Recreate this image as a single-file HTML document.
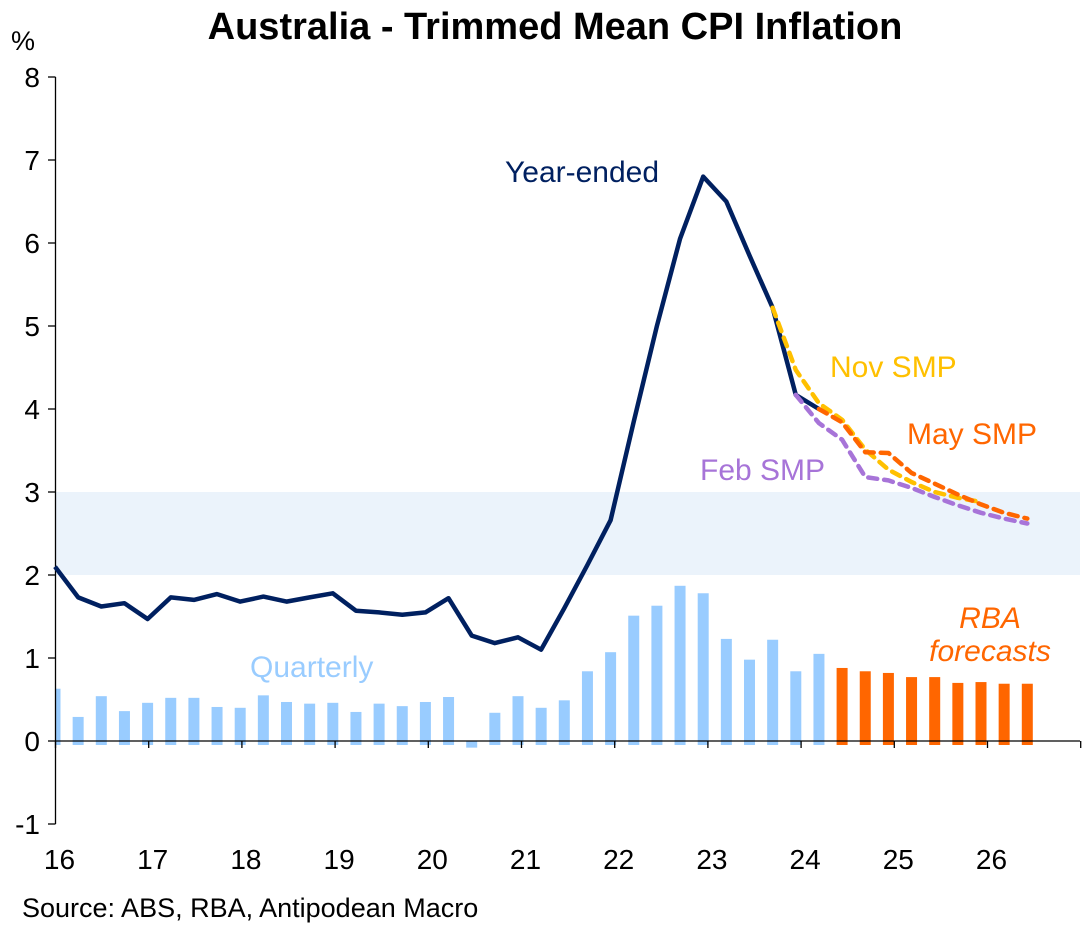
<!DOCTYPE html>
<html><head><meta charset="utf-8">
<style>
html,body{margin:0;padding:0;background:#fff;}
svg text{font-family:"Liberation Sans",Arial,sans-serif;}
</style></head>
<body>
<svg id="chart" width="1092" height="928" viewBox="0 0 1092 928" xmlns="http://www.w3.org/2000/svg">
<rect width="1092" height="928" fill="#fff"/>
<text x="555" y="39" text-anchor="middle" font-size="38" font-weight="bold" fill="#000">Australia - Trimmed Mean CPI Inflation</text>
<text x="11" y="50" font-size="27" fill="#000">%</text>
<rect id="band" fill="#EBF3FB"/>
<g id="bars"></g>
<g id="axes"></g>
<g id="lines"></g>
<text x="505" y="182" font-size="30" fill="#002060">Year-ended</text>
<text x="830" y="377" font-size="30" fill="#FFC000">Nov SMP</text>
<text x="907" y="444" font-size="30" fill="#FF6600">May SMP</text>
<text x="700" y="480" font-size="30" fill="#A774D8">Feb SMP</text>
<text x="250" y="677" font-size="30" fill="#99CCFF">Quarterly</text>
<text x="990" y="628" font-size="30" font-style="italic" text-anchor="middle" fill="#FF6600">RBA</text>
<text x="990" y="661" font-size="30" font-style="italic" text-anchor="middle" fill="#FF6600">forecasts</text>
<text x="22" y="917" font-size="27" fill="#000">Source: ABS, RBA, Antipodean Macro</text>
</svg>
<script>
const yTicks=[8,7,6,5,4,3,2,1,0,-1];
const xTickLabels=["16","17","18","19","20","21","22","23","24","25","26"];
const quarterlyActual=[0.63,0.29,0.54,0.36,0.46,0.52,0.52,0.41,0.40,0.55,0.47,0.45,0.46,0.35,0.45,0.42,0.47,0.53,-0.08,0.34,0.54,0.40,0.49,0.84,1.07,1.51,1.63,1.87,1.78,1.23,0.98,1.22,0.84,1.05];
const quarterlyForecast=[0.88,0.84,0.82,0.77,0.77,0.70,0.71,0.69,0.69];
const yearEnded=[2.10,1.73,1.62,1.66,1.47,1.73,1.70,1.77,1.68,1.74,1.68,1.73,1.78,1.57,1.55,1.52,1.55,1.72,1.27,1.18,1.25,1.10,1.60,2.12,2.66,3.85,5.00,6.05,6.80,6.50,5.85,5.22,4.17,4.00];
const novStart=31, novSMP=[5.22,4.47,4.07,3.87,3.51,3.27,3.12,3.00,2.93,2.88];
const febStart=32, febSMP=[4.17,3.83,3.63,3.18,3.14,3.05,2.94,2.84,2.75,2.68,2.62];
const mayStart=33, maySMP=[4.00,3.84,3.48,3.47,3.23,3.10,2.97,2.85,2.75,2.68];
const band=[2,3];

const NS="http://www.w3.org/2000/svg";
const yS=v=>741-v*83;
const xQ=i=>55+i*23.15;
const xYear=k=>55.5+k*93.2;
function mk(tag,attrs,parent){const e=document.createElementNS(NS,tag);for(const k in attrs)e.setAttribute(k,attrs[k]);parent.appendChild(e);return e;}
const bandEl=document.getElementById('band');
bandEl.setAttribute('x',56);bandEl.setAttribute('width',1080-56);
bandEl.setAttribute('y',yS(band[1]));bandEl.setAttribute('height',yS(band[0])-yS(band[1]));

const bars=document.getElementById('bars');
function bar(i,v,col,name){
  const top=Math.min(yS(v),741), bot=Math.max(yS(v),745);
  let x1=xQ(i)-5.5, x2=xQ(i)+5.5;
  if(x1<56) x1=56;
  const r=mk('rect',{x:x1,y:top,width:x2-x1,height:bot-top,fill:col},bars);
  
  
}
quarterlyActual.forEach((v,i)=>bar(i,v,'#99CCFF','bar-quarterly-'+i));
quarterlyForecast.forEach((v,j)=>bar(quarterlyActual.length+j,v,'#FF6600','bar-forecast-'+j));

const ax=document.getElementById('axes');
const ya=mk('line',{x1:55.5,y1:yS(8),x2:55.5,y2:yS(-1),stroke:'#000','stroke-width':1.3},ax);


yTicks.forEach(t=>{
  mk('line',{x1:48,x2:55.5,y1:yS(t),y2:yS(t),stroke:'#000','stroke-width':1.3},ax);
  const tx=mk('text',{x:40,y:yS(t)+10,'font-size':28,'text-anchor':'end',fill:'#000'},ax);
  tx.textContent=t;
  
  
});
const xa=mk('line',{x1:55.5,y1:741,x2:1080,y2:741,stroke:'#000','stroke-width':1.3},ax);


for(let k=0;k<=11;k++){mk('line',{x1:xYear(k),x2:xYear(k),y1:741,y2:748,stroke:'#000','stroke-width':1.3},ax);}
xTickLabels.forEach((l,k)=>{
  const tx=mk('text',{x:xYear(k)+4,y:869,'font-size':28,'text-anchor':'middle',fill:'#000'},ax);
  tx.textContent=l;
  
  
});

const ln=document.getElementById('lines');
function path(vals,start,col,dash,name,w){
  const d=vals.map((v,i)=>(i?'L':'M')+xQ(start+i).toFixed(1)+','+yS(v).toFixed(1)).join(' ');
  const p=mk('path',{d:d,fill:'none',stroke:col,'stroke-width':w,'stroke-linejoin':'round'},ln);
  if(dash){p.setAttribute('stroke-dasharray','9 7');p.setAttribute('stroke-linecap','round');}
  
  
}
path(yearEnded,0,'#002060',null,'line-year-ended',4.5);
path(novSMP,novStart,'#FFC000',true,'line-nov-smp',4.5);
path(febSMP,febStart,'#A774D8',true,'line-feb-smp',4.5);
path(maySMP,mayStart,'#FF6600',true,'line-may-smp',4.5);
</script>
</body></html>
